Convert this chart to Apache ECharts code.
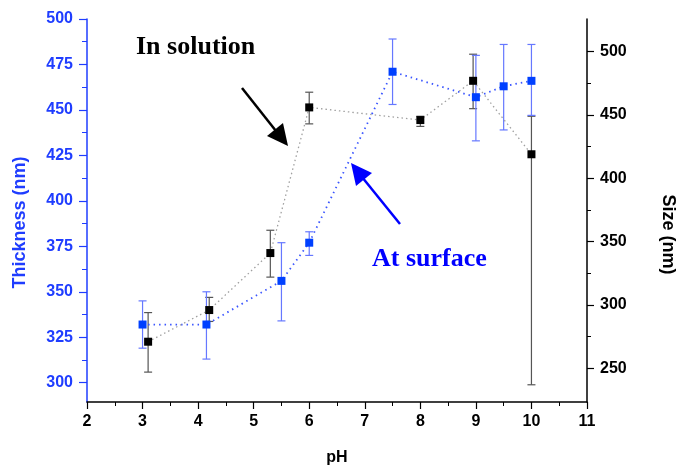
<!DOCTYPE html>
<html>
<head>
<meta charset="utf-8">
<script src="https://cdn.jsdelivr.net/npm/echarts@6/dist/echarts.min.js"></script>
<style>
  html, body { margin: 0; padding: 0; background: #fff; }
  #main { width: 676px; height: 465px; }
</style>
</head>
<body>
<div id="main"></div>
<script>
// At surface (left axis, thickness)
var phSurface = [3, 4.15, 5.5, 6, 7.5, 9, 9.5, 10];
var thickness = [332, 332, 356, 377, 471, 457, 463, 466];
var thickLow = [319, 313, 334, 370, 453, 433, 439, 447];
var thickHigh = [345, 350, 377, 383, 489, 480, 486, 486];

// In solution (right axis, size)
var phSolution = [3.1, 4.2, 5.3, 6, 8, 8.95, 10];
var size = [271, 296, 341, 456, 446, 477, 419];
var sizeLow = [247, 287, 322, 443, 441, 455, 237];
var sizeHigh = [294, 306, 359, 468, 449, 498, 449];

// tick values
var leftTicks = [300, 325, 350, 375, 400, 425, 450, 475, 500];
var leftMinor = [300, 312.5, 325, 337.5, 350, 362.5, 375, 387.5, 400, 412.5, 425, 437.5, 450, 462.5, 475, 487.5, 500];
var rightTicks = [250, 300, 350, 400, 450, 500];
var rightMinor = [250, 275, 300, 325, 350, 375, 400, 425, 450, 475, 500];

var BLUE = '#1f3dff';
var LMIN = 289.4, LMAX = 500;
var RMIN = 223.4, RMAX = 525.8;

function zip(xs, a, b, c) {
	var out = [];
	for (var i = 0; i < xs.length; i++) {
		out.push(c ? [xs[i], a[i], b[i], c[i]] : [xs[i], a[i]]);
	}
	return out;
}

//误差棒
function errorBar(color) {
	return function(params, api) {
		var lo = api.coord([api.value(0), api.value(2)]);
		var hi = api.coord([api.value(0), api.value(3)]);
		var w = 4;
		var st = { stroke: color, lineWidth: 1.2 };
		return {
			type: 'group',
			children: [
				{ type: 'line', shape: { x1: lo[0], y1: lo[1], x2: hi[0], y2: hi[1] }, style: st },
				{ type: 'line', shape: { x1: lo[0] - w, y1: lo[1], x2: lo[0] + w, y2: lo[1] }, style: st },
				{ type: 'line', shape: { x1: hi[0] - w, y1: hi[1], x2: hi[0] + w, y2: hi[1] }, style: st }
			]
		};
	};
}

var labelFont = { fontFamily: 'Liberation Sans', fontWeight: 'bold', fontSize: 16 };

var myChart = echarts.init(document.getElementById('main'));
var options = {
	animation: false,
	backgroundColor: '#fff',
	grid: { left: 87, right: 89, top: 19, bottom: 63, outerBoundsMode: 'none', containLabel: false },
	xAxis: {
		type: 'value',
		min: 2, max: 11, interval: 1,
		name: 'pH',
		nameLocation: 'middle',
		nameGap: 48,
		nameTextStyle: { color: '#000', fontFamily: 'Liberation Sans', fontWeight: 'bold', fontSize: 16 },
		axisLine: { lineStyle: { color: '#000', width: 1.5 } },
		axisTick: { inside: false, length: 7, lineStyle: { color: '#000', width: 1.2 } },
		minorTick: { show: true, splitNumber: 2, length: 4, lineStyle: { color: '#000', width: 1 } },
		axisLabel: Object.assign({ color: '#000', margin: 12 }, labelFont),
		splitLine: { show: false }
	},
	yAxis: [{
		type: 'value',
		position: 'left',
		min: LMIN, max: LMAX,
		name: 'Thickness (nm)',
		nameLocation: 'middle',
		nameGap: 58,
		nameTextStyle: { color: BLUE, fontFamily: 'Liberation Sans', fontWeight: 'bold', fontSize: 18, padding: [0, 24, 0, 0] },
		axisLine: { show: true, lineStyle: { color: BLUE, width: 1.5 } },
		axisTick: { show: true, length: 8, customValues: leftTicks, lineStyle: { color: BLUE, width: 1.2 } },
		axisLabel: Object.assign({ color: BLUE, margin: 14, customValues: leftTicks }, labelFont),
		splitLine: { show: false }
	}, {
		type: 'value',
		position: 'right',
		min: RMIN, max: RMAX,
		name: 'Size (nm)',
		nameLocation: 'middle',
		nameGap: 72,
		nameRotate: -90,
		nameTextStyle: { color: '#000', fontFamily: 'Liberation Sans', fontWeight: 'bold', fontSize: 18, padding: [0, 0, 0, 48] },
		axisLine: { show: true, lineStyle: { color: '#000', width: 1.5 } },
		axisTick: { show: true, length: 7, customValues: rightTicks, lineStyle: { color: '#000', width: 1.2 } },
		axisLabel: Object.assign({ color: '#000', margin: 13, customValues: rightTicks }, labelFont),
		splitLine: { show: false }
	}, {
		// minor ticks, left
		type: 'value',
		position: 'left',
		min: LMIN, max: LMAX,
		axisLine: { show: false },
		axisTick: { show: true, length: 5, customValues: leftMinor, lineStyle: { color: BLUE, width: 1 } },
		axisLabel: { show: false },
		splitLine: { show: false }
	}, {
		// minor ticks, right
		type: 'value',
		position: 'right',
		min: RMIN, max: RMAX,
		axisLine: { show: false },
		axisTick: { show: true, length: 4, customValues: rightMinor, lineStyle: { color: '#000', width: 1 } },
		axisLabel: { show: false },
		splitLine: { show: false }
	}],
	series: [{
		name: 'At surface',
		type: 'line',
		yAxisIndex: 0,
		data: zip(phSurface, thickness),
		symbol: 'rect',
		symbolSize: 8,
		itemStyle: { color: '#0040ff' },
		lineStyle: { color: '#3a55ff', width: 1.8, type: [1.5, 4] },
		z: 4
	}, {
		name: 'At surface err',
		type: 'custom',
		yAxisIndex: 0,
		data: zip(phSurface, thickness, thickLow, thickHigh),
		renderItem: errorBar('#6678ff'),
		z: 3
	}, {
		name: 'In solution',
		type: 'line',
		yAxisIndex: 1,
		data: zip(phSolution, size),
		symbol: 'rect',
		symbolSize: 8,
		itemStyle: { color: '#000' },
		lineStyle: { color: '#a0a0a0', width: 1.3, type: [1.5, 3] },
		z: 4
	}, {
		name: 'In solution err',
		type: 'custom',
		yAxisIndex: 1,
		data: zip(phSolution, size, sizeLow, sizeHigh),
		renderItem: errorBar('#555'),
		z: 2
	}],
	graphic: [{
		type: 'text', left: 136, top: 34,
		style: { text: 'In solution', fill: '#000', font: 'bold 26px "Liberation Serif"' }
	}, {
		type: 'text', left: 372, top: 246,
		style: { text: 'At surface', fill: '#0000ff', font: 'bold 26px "Liberation Serif"' }
	}, {
		type: 'line', shape: { x1: 242, y1: 88, x2: 276, y2: 131 },
		style: { stroke: '#000', lineWidth: 2.5 }
	}, {
		type: 'polygon', shape: { points: [[288, 146], [267, 136], [283, 123]] },
		style: { fill: '#000' }
	}, {
		type: 'line', shape: { x1: 400, y1: 224, x2: 362, y2: 177 },
		style: { stroke: '#0000ff', lineWidth: 2.5 }
	}, {
		type: 'polygon', shape: { points: [[351, 163], [372, 173], [356, 186]] },
		style: { fill: '#0000ff' }
	}]
};
myChart.setOption(options, true);
</script>
</body>
</html>
